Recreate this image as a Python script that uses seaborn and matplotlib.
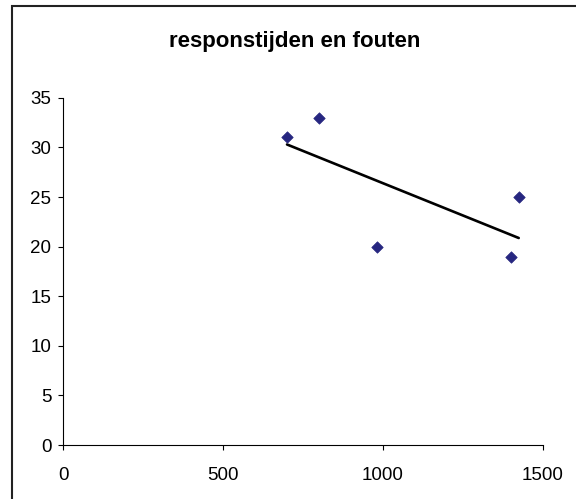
import matplotlib
matplotlib.use("Agg")
import matplotlib.pyplot as plt
import seaborn as sns
import pandas as pd
from matplotlib.patches import Rectangle

# Data
responstijd = [700, 800, 980, 1400, 1425]
fouten = [31, 33, 20, 19, 25]
title = "responstijden en fouten"
xticks = [0, 500, 1000, 1500]
yticks = [0, 5, 10, 15, 20, 25, 30, 35]

df = pd.DataFrame({"responstijd": responstijd, "fouten": fouten})

sns.set_style("ticks")
plt.rcParams['font.family'] = ['Liberation Sans', 'DejaVu Sans']

fig = plt.figure(figsize=(5.76, 4.99), dpi=100)
ax = fig.add_axes([63.3 / 576, (499 - 445) / 499, (542.7 - 63.3) / 576, (445 - 97.8) / 499])

sns.regplot(data=df, x="responstijd", y="fouten", ax=ax, ci=None, truncate=True,
            marker="D",
            scatter_kws=dict(s=34, color="#262680", edgecolor="#262680", linewidths=0.5,
                             alpha=1, zorder=3),
            line_kws=dict(color="black", linewidth=1.9, zorder=2))

ax.set_xlim(0, 1500)
ax.set_ylim(0, 35)
ax.set_xticks(xticks)
ax.set_yticks(yticks)
ax.set_xlabel("")
ax.set_ylabel("")
for s in ["top", "right"]:
    ax.spines[s].set_visible(False)
for s in ["left", "bottom"]:
    ax.spines[s].set_linewidth(0.8)
    ax.spines[s].set_color("black")
ax.tick_params(axis="both", direction="out", length=3.5, width=0.8, color="black",
               labelsize=13.5, labelcolor="black")
ax.tick_params(axis="x", pad=12)
ax.tick_params(axis="y", pad=5)

fig.text(294.7 / 576, 1 - 41 / 499, title, ha="center", va="center",
         fontsize=16, fontweight="bold", color="black")

# outer chart border
fig.patches.append(Rectangle((11.5 / 576, -0.05), 1.2, 1 - 5.7 / 499 + 0.05,
                             transform=fig.transFigure, fill=False,
                             edgecolor="#222222", linewidth=1.5, figure=fig))

fig.savefig("out.png", dpi=100)
